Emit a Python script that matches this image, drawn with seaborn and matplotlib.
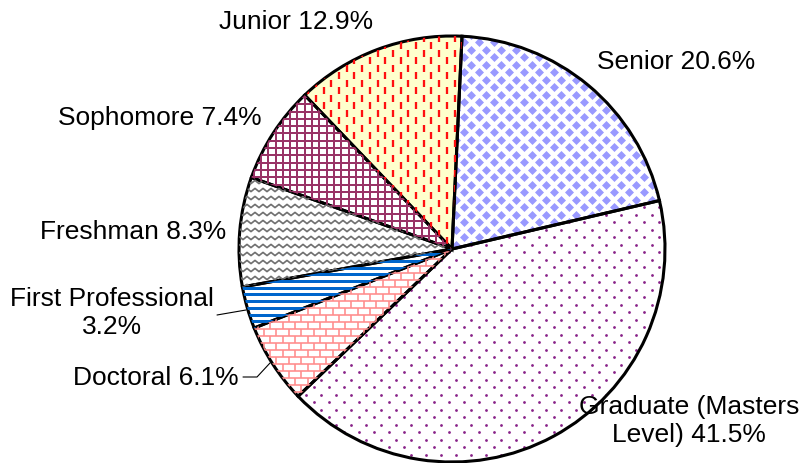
import numpy as np
import matplotlib
matplotlib.use("Agg")
import matplotlib.pyplot as plt
from matplotlib.collections import LineCollection
from matplotlib.lines import Line2D
import seaborn as sns

# enrolment share by class level, clockwise from the top
categories = ["Senior", "Graduate (Masters\nLevel)", "Doctoral", "First Professional",
              "Freshman", "Sophomore", "Junior"]
shares = [20.6, 41.5, 6.1, 3.2, 8.3, 7.4, 12.9]
label_joiners = [" ", " ", " ", "\n", " ", " ", " "]

face_colors = ["#FFFFFF", "#FFFFFF", "#FFFFFF", "#FFFFFF", "#FFFFFF", "#FFFFFF", "#FFFFCC"]

sns.set_theme(style="white")
plt.rcParams["font.family"] = ["Liberation Sans", "DejaVu Sans"]

W, H = 804, 464
CX, CY, R = 452, 250, 213
U = 1.0 / R  # one pixel in data units

fig = plt.figure(figsize=(W / 100, H / 100), dpi=100)
ax = fig.add_axes([(CX - R) / W, (H - CY - R) / H, 2 * R / W, 2 * R / H])

wedges, _ = ax.pie(shares, colors=face_colors, startangle=87.3, counterclock=False,
                   radius=1, wedgeprops=dict(linewidth=0))
ax.set_xlim(-1, 1)
ax.set_ylim(-1, 1)
ax.axis("off")


def add_lines(segs, wedge, color, lw_px):
    lc = LineCollection(segs, colors=color, linewidths=lw_px * 0.72, capstyle="butt")
    ax.add_collection(lc)
    lc.set_clip_path(wedge)


def add_dots(xs, ys, wedge, marker, size, color):
    sc = ax.scatter(xs, ys, marker=marker, s=size, color=color, linewidths=0)
    sc.set_clip_path(wedge)


# Senior: lavender diamond checker
xs, ys = [], []
for k, y in enumerate(np.arange(-1, 1 + 8 * U, 7.5 * U)):
    for x in np.arange(-1 + (k % 2) * 7.5 * U, 1 + 8 * U, 15 * U):
        xs.append(x)
        ys.append(y)
add_dots(xs, ys, wedges[0], "D", 21, "#9999FF")

# Graduate: sparse purple dots
xs, ys = [], []
for k, y in enumerate(np.arange(-1, 1 + 8 * U, 7.5 * U)):
    for x in np.arange(-1 + (k % 2) * 7.5 * U, 1 + 8 * U, 15 * U):
        xs.append(x)
        ys.append(y)
add_dots(xs, ys, wedges[1], "o", 4, "#882288")

# Doctoral: pink brick
segs = []
bh, bw = 7 * U, 12.5 * U
for k, y in enumerate(np.arange(-1, 1 + bh, bh)):
    segs.append([(-1, y), (1, y)])
    for x in np.arange(-1 + (k % 2) * bw / 2, 1 + bw, bw):
        segs.append([(x, y), (x, y + bh)])
add_lines(segs, wedges[2], "#FF8C8C", 1.6)

# First Professional: blue horizontal stripes
segs = [[(-1, y), (1, y)] for y in np.arange(-1, 1, 6.7 * U)]
add_lines(segs, wedges[3], "#0066CC", 3.0)

# Freshman: grey zigzag
segs = []
zx = np.arange(-1, 1 + 4 * U, 4 * U)
for y in np.arange(-1, 1, 8 * U):
    zy = y + np.where(np.arange(len(zx)) % 2 == 0, 1.6 * U, -1.6 * U)
    segs.append(np.column_stack([zx, zy]))
add_lines(segs, wedges[4], "#707070", 1.7)

# Sophomore: plum grid
step = 7.3 * U
segs = [[(-1, v), (1, v)] for v in np.arange(-1, 1, step)]
segs += [[(v, -1), (v, 1)] for v in np.arange(-1, 1, step)]
add_lines(segs, wedges[5], "#993366", 2.0)

# Junior: red dashes on pale yellow
segs = []
for i, x in enumerate(np.arange(-1, 1, 7.7 * U)):
    for y in np.arange(-1 + (i % 2) * 7.5 * U, 1, 15 * U):
        segs.append([(x, y), (x, y + 7 * U)])
add_lines(segs, wedges[6], "#FF1010", 2.3)

# black outlines on top
ax.pie(shares, startangle=87.3, counterclock=False, radius=1,
       wedgeprops=dict(fill=False, edgecolor="black", linewidth=2.2))
ax.set_xlim(-1, 1)
ax.set_ylim(-1, 1)
ax.axis("off")

# labels
label_text = [f"{c}{j}{s:.1f}%" for c, j, s in zip(categories, label_joiners, shares)]
label_pos = [(676, 62), (689, 421), (156, 378), (112, 313), (133, 232), (160, 118), (296, 22)]
for txt, (px, py) in zip(label_text, label_pos):
    fig.text(px / W, 1 - py / H, txt, ha="center", va="center", fontsize=19,
             multialignment="center", linespacing=1.18, color="black")

# leader lines
for pts in [[(217, 316), (246, 311)], [(243, 378), (257, 378), (270, 364)]]:
    xs_l = [p[0] / W for p in pts]
    ys_l = [1 - p[1] / H for p in pts]
    fig.add_artist(Line2D(xs_l, ys_l, color="black", linewidth=0.8, transform=fig.transFigure))

fig.savefig("out.png", dpi=100)
